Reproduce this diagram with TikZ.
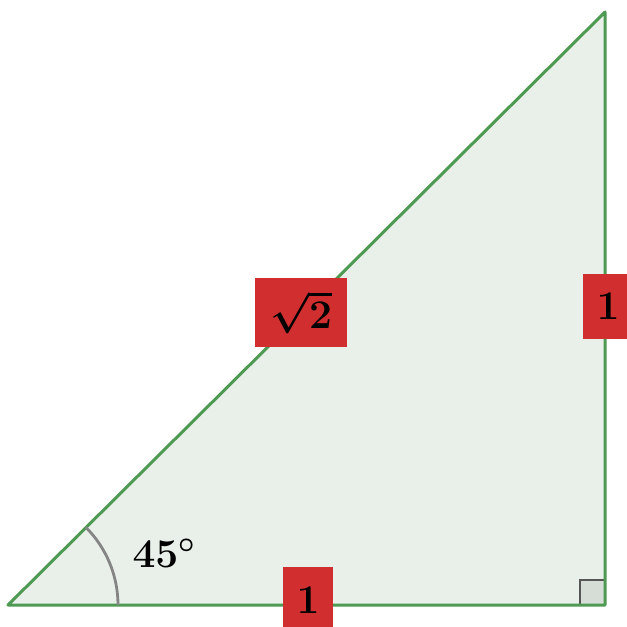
\documentclass[tikz,border=0pt]{standalone}
\usepackage{fix-cm}
\usepackage{amsmath}
\definecolor{edgegreen}{HTML}{4E9A52}
\definecolor{fillgreen}{HTML}{E9F0EA}
\definecolor{labelred}{HTML}{D12F2F}
\definecolor{arcgray}{HTML}{858585}
\definecolor{sqfill}{HTML}{D6DCD6}
\definecolor{sqdraw}{HTML}{555555}
\tikzset{
  side/.style={draw=edgegreen, line width=0.75mm, line join=round},
  lbl/.style={fill=labelred, inner sep=0pt, text=black,
    font=\fontsize{29}{32}\selectfont\bfseries\boldmath},
  anglbl/.style={inner sep=0pt, text=black, font=\fontsize{29}{32}\selectfont\bfseries\boldmath}
}
\begin{document}
\begin{tikzpicture}[x=0.25mm, y=-0.25mm]
\useasboundingbox (0,0) rectangle (627,627);
\clip (0,0) rectangle (627,627);
\coordinate (A) at (8,605);
\coordinate (B) at (605,605);
\coordinate (C) at (605,12);
\fill[fillgreen] (A) -- (B) -- (C) -- cycle;
\draw[fill=sqfill, draw=sqdraw, line width=0.4mm] (580,605) rectangle (605,580);
\draw[side] (A) -- (B) -- (C) -- cycle;
\draw[arcgray, line width=0.7mm] (118,605) arc[start angle=0, end angle=-45, radius=110];
\node[anglbl] (ang) at (164,553) {$45^\circ$};
\node[lbl, minimum width=12.5mm, minimum height=16.5mm] (lb) at (308,600) {$1$};
\node[lbl, minimum width=12.5mm, minimum height=16.25mm] (lr) at (608,306.5) {$1$};
\node[lbl, minimum width=23mm, minimum height=17.25mm] (lh) at (301,312.5) {$\sqrt{2}$};
\end{tikzpicture}
\end{document}
